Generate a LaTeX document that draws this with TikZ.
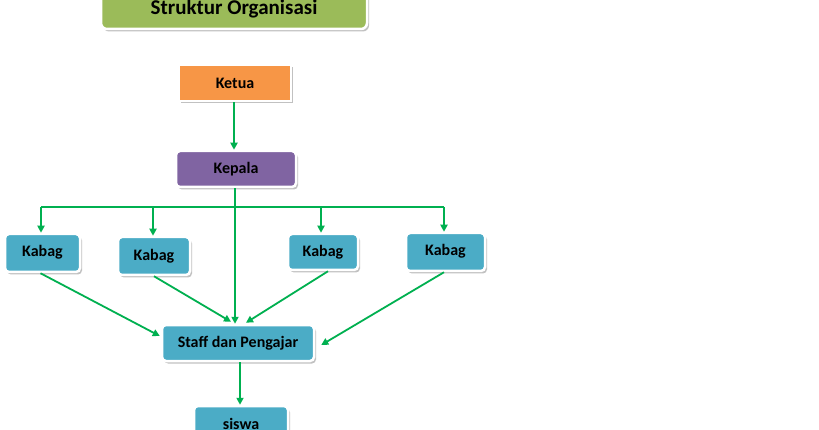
\documentclass[tikz,border=0pt]{standalone}
\usepackage{fontspec}
\setmainfont{Carlito}
\usetikzlibrary{shadows,arrows.meta}
\definecolor{titlegreen}{HTML}{9BBB59}
\definecolor{ketuaor}{HTML}{F79646}
\definecolor{kepalapu}{HTML}{8064A2}
\definecolor{kabagbl}{HTML}{4BACC6}
\definecolor{linkgreen}{HTML}{00B050}
\tikzset{
  boxbase/.style={draw=white, line width=2.5pt, inner sep=0pt, font=\bfseries\fontsize{16}{18}\selectfont,
    drop shadow={shadow xshift=2pt, shadow yshift=-2.5pt, fill=black!40, opacity=.6}},
  orgbox/.style={boxbase, rounded corners=4pt},
  link/.style={draw=linkgreen, line width=1.8pt, -{Triangle[length=7pt,width=7pt]}},
  busline/.style={draw=linkgreen, line width=1.8pt}
}
\begin{document}
\begin{tikzpicture}[x=1pt,y=-1pt]
\useasboundingbox[fill=white] (0,0) rectangle (819,430);
\node[boxbase, rounded corners=6pt, fill=titlegreen, minimum width=266pt, minimum height=42pt] (title) at (234,8) {};
\node[font=\bfseries\fontsize{21}{24}\selectfont, anchor=base, inner sep=0pt] (titletext) at (234,14.5) {Struktur Organisasi};
\node[boxbase, fill=ketuaor, minimum width=112pt, minimum height=36pt] (ketua) at (235,83) {Ketua};
\node[orgbox, fill=kepalapu, minimum width=120pt, minimum height=36pt] (kepala) at (236,169) {Kepala};
\node[orgbox, fill=kabagbl, minimum width=75pt, minimum height=38pt] (k1) at (42.5,253) {Kabag\rule[-5pt]{0pt}{1pt}};
\node[orgbox, fill=kabagbl, minimum width=72pt, minimum height=38pt] (k2) at (154,256) {Kabag};
\node[orgbox, fill=kabagbl, minimum width=70pt, minimum height=36pt] (k3) at (323,252) {Kabag};
\node[orgbox, fill=kabagbl, minimum width=79pt, minimum height=38pt] (k4) at (445.5,252) {Kabag\rule[-5pt]{0pt}{1pt}};
\node[orgbox, fill=kabagbl, minimum width=152pt, minimum height=36pt] (staff) at (238,343) {Staff dan Pengajar};
\node[orgbox, fill=kabagbl, minimum width=94pt, minimum height=36pt] (siswa) at (241,424) {siswa};
\coordinate (bus) at (235,207);
\path[link] ([xshift=-1pt]ketua.south) -- ([xshift=-1pt]ketua.south |- kepala.north);
\path[link] ([xshift=-1pt]kepala.south) -- ([xshift=-1pt]kepala.south |- staff.north);
\path[busline] ([xshift=-1.5pt]k1.north |- bus) -- ([xshift=-1.5pt]k4.north |- bus);
\path[link] ([xshift=-1.5pt]k1.north |- bus) -- ([xshift=-1.5pt]k1.north);
\path[link] ([xshift=-1pt]k2.north |- bus) -- ([xshift=-1pt]k2.north);
\path[link] ([xshift=-2pt]k3.north |- bus) -- ([xshift=-2pt]k3.north);
\path[link] ([xshift=-1.5pt]k4.north |- bus) -- ([xshift=-1.5pt]k4.north);
\path[link] ([xshift=-2pt]k1.south) -- ([yshift=7pt,xshift=-1pt]staff.west);
\path[link] (k2.south) -- ([xshift=-7pt,yshift=2pt]staff.north);
\path[link] ([xshift=5pt]k3.south) -- ([xshift=8pt,yshift=1pt]staff.north);
\path[link] ([xshift=-1.5pt]k4.south) -- ([xshift=6pt,yshift=-2pt]staff.east);
\path[link] ([xshift=2pt]staff.south) -- ([xshift=-1pt]siswa.north);
\end{tikzpicture}
\end{document}
